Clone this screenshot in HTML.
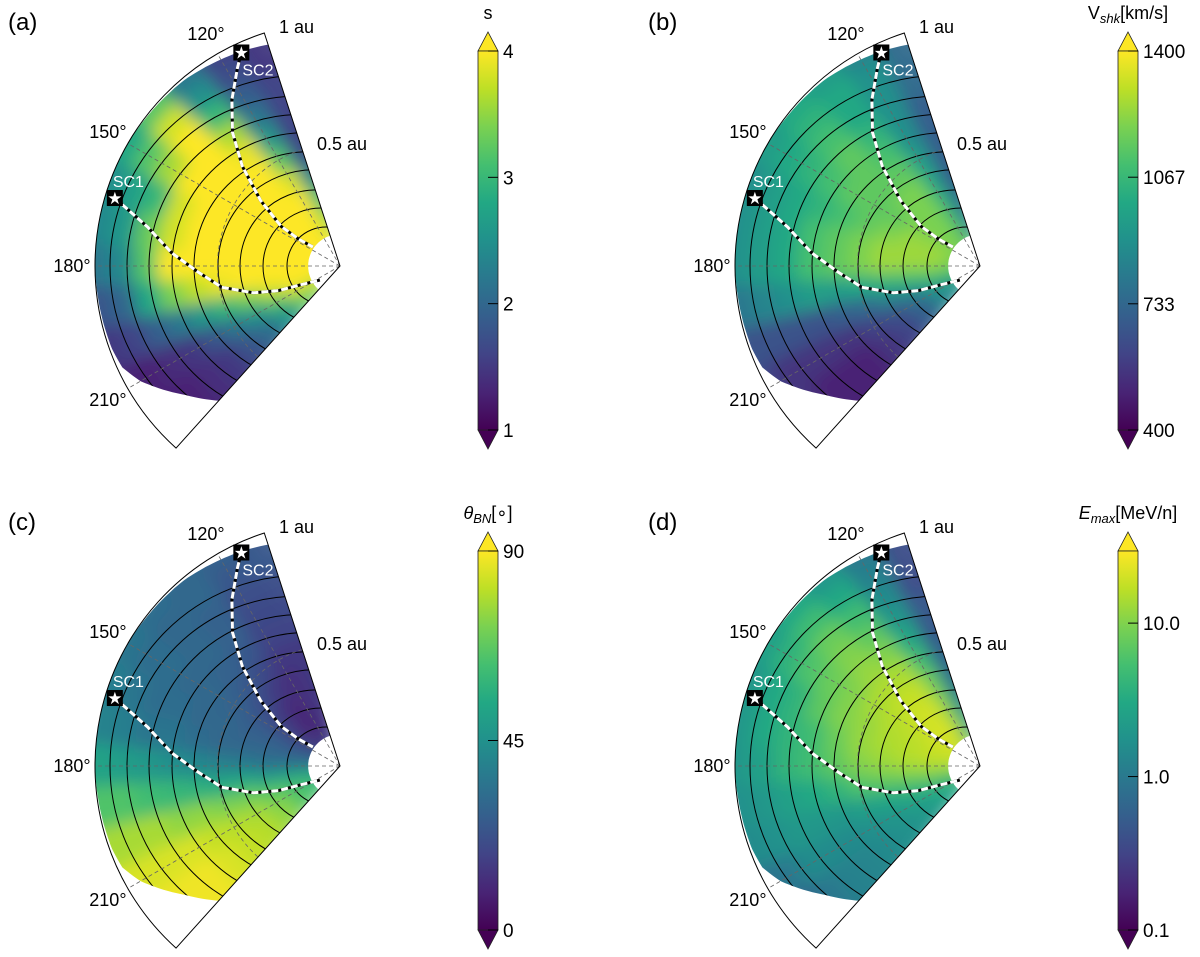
<!DOCTYPE html>
<html><head><meta charset="utf-8">
<style>
html,body{margin:0;padding:0;background:#fff;width:1200px;height:957px;overflow:hidden;}
svg{display:block;font-family:"Liberation Sans","DejaVu Sans",sans-serif;}
</style></head>
<body>
<svg id="fig" width="1200" height="957" viewBox="0 0 1200 957" xmlns="http://www.w3.org/2000/svg">
<defs>
<linearGradient id="viridis" x1="0" y1="1" x2="0" y2="0">
<stop offset="0" stop-color="#440154"/><stop offset="0.1" stop-color="#482475"/><stop offset="0.2" stop-color="#414487"/><stop offset="0.3" stop-color="#355f8d"/><stop offset="0.4" stop-color="#2a788e"/><stop offset="0.5" stop-color="#21918c"/><stop offset="0.6" stop-color="#22a884"/><stop offset="0.7" stop-color="#44bf70"/><stop offset="0.8" stop-color="#7ad151"/><stop offset="0.9" stop-color="#bddf26"/><stop offset="1" stop-color="#fde725"/>
</linearGradient>
<filter id="blur" x="-10%" y="-10%" width="120%" height="120%"><feGaussianBlur stdDeviation="8"/></filter>
</defs>
</svg>
<script>
// grid coordinates (au, degrees)
const radii = [0.1,0.2,0.3,0.4,0.5,0.6,0.7,0.8,0.9,1.0];
const thetas = [110,120,130,140,150,160,170,180,190,200,210,220,230];
// panel (a) compression ratio s
const sValues = [
[3.8,4,4,4,4,4,4,4,4,4,3.8,3.5,3.5],
[3.5,4,4,4,4,4,4,4,4,4,3.8,3.3,3.2],
[3.0,4,4,4,4,4,4,4,4,3.8,3.2,2.6,2.5],
[2.3,3.8,4,4,4,4,4,4,4,3.4,2.6,2.1,2.0],
[1.7,3.2,4,4,4,4,4,4,3.9,3.0,2.2,1.8,1.7],
[1.6,2.6,3.9,4,4,4,4,4,3.7,2.6,1.8,1.5,1.5],
[1.6,2.2,3.6,4,4,3.8,3.8,4,3.4,2.2,1.5,1.4,1.4],
[1.6,1.9,3.0,4,3.6,3.0,3.3,3.2,2.8,1.9,1.4,1.3,1.3],
[1.5,1.7,2.5,3.8,3.2,2.7,2.6,2.4,2.0,1.6,1.3,1.3,1.3],
[1.5,1.6,2.2,3.2,2.8,2.5,2.4,2.2,1.8,1.5,1.3,1.3,1.3]];
// panel (b) shock speed km/s
const vValues = [
[900,1150,1200,1200,1200,1200,1200,1200,1150,1050,950,900,900],
[800,1100,1200,1200,1200,1250,1250,1250,1150,1000,900,850,850],
[750,1050,1200,1200,1200,1250,1250,1250,1100,900,750,700,700],
[700,1000,1200,1200,1150,1200,1250,1250,1050,850,650,600,600],
[700,950,1150,1150,1150,1150,1200,1200,1000,750,600,550,550],
[700,900,1100,1150,1150,1100,1150,1150,950,700,550,500,500],
[700,900,1050,1150,1100,1050,1100,1100,950,650,550,500,500],
[750,900,1000,1100,1050,1000,1000,1000,900,650,550,500,500],
[750,900,1000,1050,1000,950,950,950,850,650,550,550,550],
[750,850,950,1000,950,900,900,900,800,650,600,600,600]];
// panel (c) theta_BN degrees
const tValues = [
[20,15,15,15,20,25,30,35,45,55,60,60,60],
[15,10,10,12,20,25,30,35,50,60,65,65,65],
[15,12,10,15,22,28,30,35,50,65,72,75,75],
[15,12,15,20,25,28,30,38,55,70,78,80,80],
[15,15,20,25,28,30,30,40,55,72,80,82,82],
[18,18,25,28,30,30,32,42,58,75,82,85,85],
[20,20,28,30,30,32,35,45,60,75,85,88,88],
[22,22,28,30,32,32,35,48,62,78,85,88,88],
[25,25,30,30,32,35,38,50,65,78,85,88,88],
[25,28,30,32,35,38,40,52,65,78,85,88,88]];
// panel (d) Emax MeV/n
const eValues = [
[3,12,18,20,20,20,18,15,10,6,4,3,3],
[2,12,20,22,20,18,18,15,10,5,3,2.5,2.5],
[1.2,10,20,20,18,16,16,14,8,4,2.5,2,2],
[0.8,8,18,18,16,15,14,12,7,3,2,1.7,1.7],
[0.6,5,14,15,14,12,12,10,6,2.5,1.7,1.5,1.5],
[0.5,3,10,12,10,10,8,7,4,2,1.5,1.3,1.3],
[0.5,2,7,10,8,7,5,5,3,2,1.5,1.2,1.2],
[0.4,1.5,5,8,6,4,4,4,2.5,2,1.5,1,1],
[0.4,1.2,3,5,4,3,3,2.5,2,1.7,1,0.6,0.6],
[0.4,1.0,2,3,2.5,2,2,2,1.7,1.5,0.8,0.4,0.4]];
// spacecraft field-line traces (au, deg)
const sc1R = [0.96,0.80,0.69,0.58,0.49,0.37,0.27,0.18,0.10];
const sc1T = [163.2,168.6,175.5,182.4,190.2,197.2,201.8,205.4,215];
const sc2R = [0.96,0.91,0.81,0.70,0.57,0.42,0.29,0.20,0.135];
const sc2T = [114.8,117.4,123.0,128.8,134.4,140.5,146,147,145];
// colorbar ticks
const sTicks = [1,2,3,4];
const vTicks = [400,733,1067,1400];
const tTicks = [0,45,90];
const eTicks = [0.1,1.0,10.0];

const NS = "http://www.w3.org/2000/svg";
const svg = document.getElementById('fig');
const S = 245, T0 = 108, T1 = 228, RIN = 0.13;
const stops = ["#440154","#482475","#414487","#355f8d","#2a788e","#21918c","#22a884","#44bf70","#7ad151","#bddf26","#fde725"];
function hex(h){return [parseInt(h.substr(1,2),16),parseInt(h.substr(3,2),16),parseInt(h.substr(5,2),16)];}
function viridis(f){f=Math.max(0,Math.min(1,f));const x=f*10,i=Math.min(9,Math.floor(x)),t=x-i;const a=hex(stops[i]),b=hex(stops[i+1]);
 return 'rgb('+a.map((v,k)=>Math.round(v+(b[k]-v)*t)).join(',')+')';}
function el(tag,attrs,parent){const e=document.createElementNS(NS,tag);for(const k in attrs)e.setAttribute(k,attrs[k]);(parent||svg).appendChild(e);return e;}
function txt(x,y,s,attrs,parent){const e=el('text',Object.assign({x:x,y:y},attrs),parent);e.textContent=s;return e;}
// outer boundary of simulated region (geometry)
const bndT=[108,115,130,150,180,200,205,210,215,220,228];
const bndR=[0.95,0.965,0.99,1.0,1.0,0.99,0.98,0.94,0.88,0.82,0.74];
function bnd(t){t=Math.max(T0,Math.min(T1,t));for(let i=0;i<bndT.length-1;i++){if(t<=bndT[i+1]){const f=(t-bndT[i])/(bndT[i+1]-bndT[i]);return bndR[i]+f*(bndR[i+1]-bndR[i]);}}return bndR[bndR.length-1];}
// shock front geometry (pixels)
const frontD=[53,77,100,122,146,168,191,213,230];
const frontRt=[41,61,80,101,120,140,159,178,199];

const panels=[
 {id:'a',ox:0,oy:0,vals:sValues,norm:v=>(v-1)/3,ticks:sTicks,fmt:v=>String(v),title:'s'},
 {id:'b',ox:640,oy:0,vals:vValues,norm:v=>(v-400)/1000,ticks:vTicks,fmt:v=>String(v),title:'V<tspan font-size="13" dy="4" font-style="italic">shk</tspan><tspan dy="-4">[km/s]</tspan>'},
 {id:'c',ox:0,oy:500,vals:tValues,norm:v=>v/90,ticks:tTicks,fmt:v=>String(v),title:'<tspan font-style="italic">θ</tspan><tspan font-size="13" dy="4" font-style="italic">BN</tspan><tspan dy="-4">[∘]</tspan>'},
 {id:'d',ox:640,oy:500,vals:eValues,norm:v=>(Math.log10(v)+1)/2.47,ticks:eTicks,fmt:v=>v.toFixed(1),title:'<tspan font-style="italic">E</tspan><tspan font-size="13" dy="4" font-style="italic">max</tspan><tspan dy="-4">[MeV/n]</tspan>'}
];

panels.forEach(p=>{
 const cx=340+p.ox, cy=266+p.oy;
 const X=(r,t)=>cx+r*S*Math.cos(t*Math.PI/180);
 const Y=(r,t)=>cy-r*S*Math.sin(t*Math.PI/180);
 const g=el('g',{});
 
 
 const cp=el('clipPath',{id:'clip'+p.id},g);
 let d='';
 for(let t=T0;t<=T1;t+=1){d+=(t===T0?'M':'L')+X(bnd(t),t).toFixed(1)+','+Y(bnd(t),t).toFixed(1);}
 for(let t=T1;t>=T0;t-=2){d+='L'+X(RIN,t).toFixed(1)+','+Y(RIN,t).toFixed(1);}
 el('path',{d:d+'Z'},cp);
 const outer=el('g',{'clip-path':'url(#clip'+p.id+')'},g);
 
 
 const hm=el('g',{filter:'url(#blur)'},outer);
 radii.forEach((r,i)=>{thetas.forEach((t,j)=>{
  const a0=j===0?98:t-5, a1=j===thetas.length-1?234:t+5;
  const lim=Math.max(bnd(a0),bnd(a1),bnd(t))+0.07;
  const r0=i===0?0:r-0.05;
  let r1=i===radii.length-1?1.07:r+0.05;
  r1=Math.min(r1,lim);
  if(r1<=r0) return;
  const col=viridis(p.norm(p.vals[i][j]));
  const c=el('path',{d:`M${X(r0,a0)},${Y(r0,a0)}L${X(r1,a0)},${Y(r1,a0)}A${r1*S},${r1*S} 0 0 1 ${X(r1,a1)},${Y(r1,a1)}L${X(r0,a1)},${Y(r0,a1)}Z`,fill:col,stroke:col,'stroke-width':1.5},hm);
  
  
 });});
 const fg=el('g',{'clip-path':'url(#clip'+p.id+')',fill:'none',stroke:'#000','stroke-width':1},g);
 
 
 frontD.forEach((dd,k)=>{
  const pxr=frontRt[k]*Math.cos(T0*Math.PI/180)+dd, pyr=frontRt[k]*Math.sin(T0*Math.PI/180);
  const R=(pxr*pxr+pyr*pyr)/(2*pxr);
  const c=el('circle',{cx:cx-dd+R,cy:cy,r:R},fg);
  
  
 });
 const gg=el('g',{fill:'none',stroke:'#666','stroke-width':0.8,'stroke-dasharray':'4 3'},g);
 
 
 [120,150,180,210].forEach(t=>el('line',{x1:cx,y1:cy,x2:X(1,t),y2:Y(1,t)},gg));
 el('path',{d:`M${X(0.5,T0)},${Y(0.5,T0)}A${0.5*S},${0.5*S} 0 0 0 ${X(0.5,T1)},${Y(0.5,T1)}`},gg);
 const w=el('path',{d:`M${cx},${cy}L${X(1,T0)},${Y(1,T0)}A${S},${S} 0 0 0 ${X(1,T1)},${Y(1,T1)}Z`,fill:'none',stroke:'#000','stroke-width':1},g);
 
 
 [120,150,180,210].forEach(t=>{
  const l=txt(X(268/S,t),Y(268/S,t)+6,t+'°',{'font-size':18,'text-anchor':'middle',fill:'#000'},g);
  
  
 });
 const l1=txt(cx-61,cy-233,'1 au',{'font-size':18},g);
 
 
 const l2=txt(cx-23,cy-116,'0.5 au',{'font-size':18},g);
 
 
 [[sc1R,sc1T,'sc1'],[sc2R,sc2T,'sc2']].forEach(([R,Tt,n])=>{
  let dp='';R.forEach((r,i)=>{dp+=(i?'L':'M')+X(r,Tt[i]).toFixed(1)+','+Y(r,Tt[i]).toFixed(1);});
  const lg=el('g',{fill:'none','stroke-width':3,'stroke-linejoin':'round'},g);
  
  
  el('path',{d:dp,stroke:'#000'},lg);
  el('path',{d:dp,stroke:'#fff','stroke-dasharray':'7 3'},lg);
  const sx=X(R[0],Tt[0]), sy=Y(R[0],Tt[0]);
  const m=el('g',{},g);
  
  
  el('rect',{x:sx-8,y:sy-8,width:16,height:16,fill:'#000'},m);
  txt(sx,sy+6,'★',{'font-size':17,fill:'#fff','text-anchor':'middle','font-family':'DejaVu Sans'},m);
  const lab=n==='sc1'?txt(sx-2,sy-11,'SC1',{'font-size':16,fill:'#fff','text-anchor':'start'},g):txt(sx+1,sy+23,'SC2',{'font-size':16,fill:'#fff'},g);
  
  
 });
 const pl=txt(8+p.ox,30+p.oy,'('+p.id+')',{'font-size':24},g);
 
 
 const bx=478+p.ox, by0=51+p.oy, by1=430+p.oy, bw=20;
 const cb=el('g',{},g);
 
 
 el('path',{d:`M${bx},${by0}L${bx+bw/2},${by0-19}L${bx+bw},${by0}Z`,fill:'#fde725',stroke:'#222','stroke-width':0.8},cb);
 el('path',{d:`M${bx},${by1}L${bx+bw/2},${by1+19}L${bx+bw},${by1}Z`,fill:'#440154',stroke:'#222','stroke-width':0.8},cb);
 el('rect',{x:bx,y:by0,width:bw,height:by1-by0,fill:'url(#viridis)',stroke:'#222','stroke-width':0.8},cb);
 p.ticks.forEach(v=>{
  const yy=by1-p.norm(v)*(by1-by0);
  el('line',{x1:bx+bw/2,x2:bx+bw,y1:yy,y2:yy,stroke:'#000','stroke-width':1},cb);
  const tl=txt(bx+bw+5,yy+7,p.fmt(v),{'font-size':19},cb);
  
  
 });
 const ct=el('text',{x:bx+bw/2,y:by0-32,'font-size':18,'text-anchor':'middle'},cb);
 ct.innerHTML=p.title;
 
 
});
</script>
</body></html>
